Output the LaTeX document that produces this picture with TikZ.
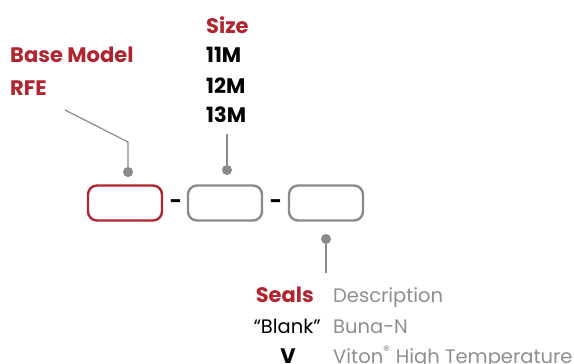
\documentclass[tikz,border=0pt]{standalone}
\usepackage{fontspec}
\setmainfont{Poppins}
\usepackage{xcolor}
\usepackage{tikz}
\definecolor{codered}{HTML}{B0252F}
\definecolor{codegray}{HTML}{8A8A8D}
\definecolor{descgray}{HTML}{8E8E91}

\tikzset{
  codebox/.style={draw, rounded corners=9pt, line width=2.4pt, minimum width=74pt, minimum height=35pt, inner sep=0pt},
  pin/.style={circle, fill=codegray, inner sep=0pt, minimum size=10pt},
  leader/.style={draw=codegray, line width=1.2pt},
  head/.style={text=codered, font=\bfseries\fontsize{21}{24}\selectfont, inner sep=0pt},
  option/.style={text=black, font=\bfseries\fontsize{21}{24}\selectfont, inner sep=0pt},
  desc/.style={text=descgray, font=\fontsize{19.5}{23}\selectfont, inner sep=0pt},
  code/.style={text=black, font=\fontsize{19.5}{23}\selectfont, inner sep=0pt}
}

\begin{document}
\begin{tikzpicture}[x=1pt,y=-1pt]
\useasboundingbox (0,0) rectangle (574,364);

% boxes of the model code
\node[codebox, draw=codered] (model) at (125,203) {};
\node[codebox, draw=codegray] (size) at (225,203) {};
\node[codebox, draw=codegray] (seals) at (326,203) {};
\node[option] (dashA) at (176,204) {-};
\node[option] (dashB) at (276,204) {-};

% base model
\node[head, anchor=base west] (modelhead) at (10,62) {Base Model};
\node[head, anchor=base west] (rfe) at (10,95) {RFE};
\coordinate (modelstart) at (65,110);
\coordinate (modelbend) at (128,142);
\node[pin] (modelpin) at (128,172) {};
\draw[leader] (modelstart) -- (modelbend) -- (modelpin);

% size
\node[head, anchor=base west] (sizehead) at (206,33) {Size};
\node[option, anchor=base west] (s11) at (206,63) {11M};
\node[option, anchor=base west] (s12) at (206,93) {12M};
\node[option, anchor=base west] (s13) at (206,122) {13M};
\coordinate (sizestart) at (227,134);
\node[pin] (sizepin) at (227,170) {};
\draw[leader] (sizestart) -- (sizepin);

% seals
\node[pin] (sealspin) at (326,239) {};
\coordinate (sealsend) at (326,273);
\draw[leader] (sealspin) -- (sealsend);
\node[head, anchor=base east] (sealshead) at (314,302) {Seals};
\node[desc, anchor=base west] (deschead) at (333,302) {Description};
\node[code, anchor=base east] (blank) at (321,333) {“Blank”};
\node[desc, anchor=base west] (buna) at (333,333) {Buna-N};
\node[option, anchor=base] (viton) at (288,363) {V};
\node[desc, anchor=base west] (vitondesc) at (333,363) {Viton\textsuperscript{®} High Temperature};
\end{tikzpicture}
\end{document}
